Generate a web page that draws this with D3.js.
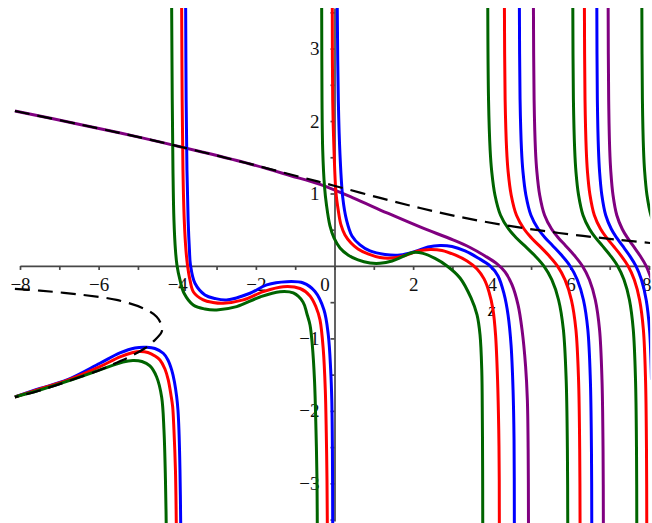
<!DOCTYPE html>
<html>
<head>
<meta charset="utf-8">
<script src="https://cdn.jsdelivr.net/npm/d3@7"></script>
<style>
  html, body { margin: 0; padding: 0; background: #ffffff; }
  svg { display: block; }
  .axis path, .axis line { stroke: #474747; stroke-width: 1.7; }
  .axis text { font-family: "Liberation Serif", "Times New Roman", serif; font-size: 19px; fill: #111; }
</style>
</head>
<body>
<svg id="chart" width="652" height="523"></svg>
<script>
// ---- axis ticks and labels ----
const xTicks = [-8, -7, -6, -5, -4, -3, -2, -1, 0, 1, 2, 3, 4, 5, 6, 7, 8];
const xLabels = [-8, -6, -4, -2, 0, 2, 4, 6, 8];
const yTicks = [-3.5, -3, -2.5, -2, -1.5, -1, -0.5, 0.5, 1, 1.5, 2, 2.5, 3, 3.5];
const yLabels = [-3, -2, -1, 1, 2, 3];
const xAxisTitle = "z";

// ---- curve branches, [z, value] pairs, one array per branch between poles ----
const greenBranches = [
  [[-8.130,-1.808],[-7.494,-1.712],[-6.807,-1.594],[-5.967,-1.435],[-5.382,-1.325],[-5.127,-1.304],[-4.898,-1.318],[-4.695,-1.380],[-4.524,-1.532],[-4.397,-1.808],[-4.338,-2.264],[-4.300,-2.954],[-4.282,-3.520],[-4.275,-4.058]],
  [[-4.148,3.948],[-4.142,3.533],[-4.127,2.291],[-4.109,1.325],[-4.084,0.635],[-4.046,0.221],[-4.008,0.014],[-3.931,-0.193],[-3.830,-0.373],[-3.593,-0.538],[-3.295,-0.594],[-2.997,-0.607],[-2.489,-0.562],[-1.896,-0.428],[-1.387,-0.355],[-1.048,-0.373],[-0.802,-0.497],[-0.700,-0.663],[-0.623,-0.814],[-0.565,-1.090],[-0.509,-1.574],[-0.471,-2.264],[-0.445,-2.954],[-0.438,-3.520],[-0.433,-4.058]],
  [[-0.331,3.948],[-0.326,3.533],[-0.318,2.291],[-0.300,1.601],[-0.254,1.095],[-0.204,0.842],[-0.115,0.552],[-0.013,0.386],[0.140,0.248],[0.344,0.152],[0.598,0.083],[0.903,0.041],[1.158,0.037],[1.463,0.069],[1.743,0.131],[1.997,0.186],[2.252,0.173],[2.557,0.104],[2.863,0],[3.193,-0.166],[3.473,-0.442],[3.626,-0.676],[3.702,-0.952],[3.746,-1.435],[3.761,-2.126],[3.768,-2.816],[3.771,-3.520],[3.774,-4.058]],
  [[3.898,3.7],[3.918,2.3],[3.959,1.6],[4.000,1.3],[4.081,0.98],[4.224,0.70],[4.427,0.51],[4.621,0.39],[4.835,0.28],[5.099,0.14],[5.323,0],[5.527,-0.19],[5.700,-0.47],[5.822,-0.88],[5.893,-1.57],[5.924,-2.53],[5.934,-3.7]],
  [[6.061,3.7],[6.077,2.3],[6.110,1.6],[6.142,1.3],[6.208,0.98],[6.322,0.70],[6.485,0.51],[6.639,0.39],[6.810,0.28],[7.022,0.14],[7.201,0],[7.364,-0.19],[7.503,-0.47],[7.600,-0.88],[7.657,-1.57],[7.682,-2.53],[7.690,-3.7]],
  [[7.817,3.7],[7.832,2.3],[7.861,1.6],[7.890,1.3],[7.948,0.98],[8.049,0.70],[8.180,0.51]]
];

const redBranches = [
  [[-8.130,-1.808],[-7.494,-1.698],[-6.807,-1.580],[-5.967,-1.390],[-5.458,-1.256],[-5.127,-1.194],[-4.949,-1.180],[-4.746,-1.194],[-4.567,-1.242],[-4.440,-1.297],[-4.313,-1.422],[-4.229,-1.573],[-4.160,-1.781],[-4.117,-1.942],[-4.084,-2.264],[-4.046,-2.816],[-4.025,-3.520],[-4.018,-4.058]],
  [[-3.893,3.948],[-3.888,3.533],[-3.875,2.291],[-3.855,1.325],[-3.822,0.635],[-3.779,0.221],[-3.740,0.014],[-3.677,-0.193],[-3.588,-0.359],[-3.338,-0.469],[-3.092,-0.504],[-2.830,-0.515],[-2.321,-0.469],[-1.812,-0.355],[-1.303,-0.286],[-0.878,-0.311],[-0.623,-0.414],[-0.471,-0.566],[-0.369,-0.745],[-0.285,-1.159],[-0.234,-1.712],[-0.209,-2.305],[-0.191,-2.954],[-0.183,-3.520],[-0.178,-4.058]],
  [[-0.059,3.948],[-0.056,3.533],[-0.046,2.291],[-0.013,1.601],[0.038,1.008],[0.102,0.745],[0.165,0.566],[0.267,0.428],[0.420,0.317],[0.598,0.235],[0.852,0.166],[1.158,0.117],[1.463,0.110],[1.794,0.145],[2.125,0.207],[2.430,0.228],[2.735,0.214],[3.066,0.152],[3.372,0.069],[3.626,-0.041],[3.804,-0.179],[3.931,-0.359],[4.033,-0.607],[4.097,-0.952],[4.148,-1.574],[4.178,-2.264],[4.191,-2.954],[4.193,-3.520],[4.196,-4.058]],
  [[4.321,3.7],[4.340,2.3],[4.379,1.6],[4.417,1.3],[4.494,0.98],[4.629,0.70],[4.822,0.51],[5.005,0.39],[5.207,0.28],[5.457,0.14],[5.669,0],[5.862,-0.19],[6.026,-0.47],[6.141,-0.88],[6.208,-1.57],[6.237,-2.53],[6.247,-3.7]],
  [[6.356,3.7],[6.372,2.3],[6.404,1.6],[6.435,1.3],[6.499,0.98],[6.610,0.70],[6.769,0.51],[6.920,0.39],[7.086,0.28],[7.293,0.14],[7.468,0],[7.626,-0.19],[7.761,-0.47],[7.857,-0.88],[7.912,-1.57],[7.936,-2.53],[7.944,-3.7]]
];

const blueBranches = [
  [[-8.130,-1.808],[-7.494,-1.691],[-6.807,-1.573],[-5.967,-1.343],[-5.458,-1.201],[-5.076,-1.132],[-4.779,-1.122],[-4.567,-1.139],[-4.356,-1.205],[-4.237,-1.297],[-4.142,-1.435],[-4.071,-1.601],[-4.015,-1.804],[-3.982,-1.988],[-3.957,-2.264],[-3.931,-2.816],[-3.913,-3.520],[-3.906,-4.058]],
  [[-3.791,3.948],[-3.786,3.533],[-3.774,2.291],[-3.753,1.325],[-3.723,0.635],[-3.690,0.221],[-3.664,0.014],[-3.550,-0.239],[-3.295,-0.400],[-3.041,-0.449],[-2.743,-0.469],[-2.150,-0.377],[-1.725,-0.262],[-1.216,-0.217],[-0.794,-0.235],[-0.496,-0.352],[-0.267,-0.607],[-0.158,-0.952],[-0.097,-1.435],[-0.069,-1.850],[-0.053,-2.540],[-0.046,-3.520],[-0.043,-4.058]],
  [[0.069,3.948],[0.071,3.533],[0.097,2.291],[0.140,1.532],[0.211,0.939],[0.305,0.635],[0.445,0.414],[0.649,0.290],[0.903,0.207],[1.285,0.159],[1.667,0.152],[2.048,0.200],[2.379,0.262],[2.684,0.283],[2.990,0.269],[3.321,0.207],[3.651,0.110],[3.957,0],[4.160,-0.138],[4.313,-0.386],[4.415,-0.676],[4.491,-1.090],[4.542,-1.712],[4.567,-2.402],[4.575,-3.520],[4.578,-4.058]],
  [[4.702,3.7],[4.720,2.3],[4.757,1.6],[4.794,1.3],[4.868,0.98],[4.997,0.70],[5.181,0.51],[5.356,0.39],[5.550,0.28],[5.789,0.14],[5.992,0],[6.176,-0.19],[6.333,-0.47],[6.444,-0.88],[6.508,-1.57],[6.536,-2.53],[6.545,-3.7]],
  [[6.672,3.7],[6.686,2.3],[6.715,1.6],[6.743,1.3],[6.800,0.98],[6.899,0.70],[7.041,0.51],[7.176,0.39],[7.325,0.28],[7.510,0.14],[7.666,0],[7.808,-0.19],[7.929,-0.47],[8.014,-0.88],[8.064,-1.57]]
];

const purpleBranches = [
  [[-8.130,2.139],[-6.476,1.953],[-4.949,1.774],[-3.422,1.580],[-2.150,1.408],[-1.132,1.249],[-0.369,1.125],[0.471,0.939],[1.336,0.732],[2.176,0.538],[3.015,0.359],[3.448,0.255],[3.830,0.138],[4.135,0.028],[4.338,-0.083],[4.517,-0.262],[4.669,-0.538],[4.771,-0.883],[4.860,-1.380],[4.906,-1.850],[4.926,-2.540],[4.934,-3.520],[4.936,-4.058]],
  [[5.059,3.7],[5.077,2.3],[5.112,1.6],[5.148,1.3],[5.219,0.98],[5.344,0.70],[5.522,0.51],[5.691,0.39],[5.878,0.28],[6.110,0.14],[6.306,0],[6.484,-0.19],[6.635,-0.47],[6.742,-0.88],[6.804,-1.57],[6.831,-2.53],[6.840,-3.7]],
  [[6.960,3.7],[6.974,2.3],[7.001,1.6],[7.029,1.3],[7.084,0.98],[7.181,0.70],[7.319,0.51],[7.450,0.39],[7.595,0.28],[7.774,0.14],[7.926,0],[8.064,-0.19]]
];

// dashed approximation: an upper branch and a folded lower branch
const approxUpper = [[-8.130,2.139],[-6.476,1.953],[-4.949,1.774],[-3.422,1.580],[-2.150,1.408],[-0.878,1.229],[0.013,1.104],[1.158,0.939],[2.176,0.800],[3.193,0.676],[4.211,0.573],[5.229,0.490],[6.323,0.414],[7.265,0.359],[8.028,0.317]];
const approxLower = [[-8.130,-0.317],[-7.494,-0.341],[-6.392,-0.400],[-5.542,-0.469],[-4.865,-0.584],[-4.524,-0.700],[-4.397,-0.828],[-4.397,-0.911],[-4.611,-1.045],[-4.822,-1.136],[-5.204,-1.252],[-5.542,-1.335],[-5.967,-1.435],[-6.814,-1.597],[-7.494,-1.718],[-8.130,-1.812]];

const seriesColors = { green: "#006400", red: "#ff0000", blue: "#0000ff", purple: "#800080" };

// ---- scales ----
const x = d3.scaleLinear().domain([-8, 8]).range([20, 649]);
const y = d3.scaleLinear().domain([-3.52, 3.56]).range([521, 8]);

const svg = d3.select("#chart");

svg.append("defs").append("clipPath").attr("id", "plotArea")
  .append("rect")
  .attr("x", x(-8.16)).attr("y", y(3.56))
  .attr("width", x(8.03) - x(-8.16))
  .attr("height", y(-3.55) - y(3.56));

// ---- axes crossing at the origin ----
const fmt = d => (d < 0 ? "\u2212" + Math.abs(d) : String(d));

const xAxis = d3.axisBottom(x)
  .tickValues(xTicks)
  .tickSize(4)
  .tickSizeOuter(0)
  .tickPadding(8)
  .tickFormat(d => xLabels.includes(d) ? fmt(d) : "");

const yAxis = d3.axisLeft(y)
  .tickValues(yTicks)
  .tickSize(4)
  .tickSizeOuter(0)
  .tickPadding(11)
  .tickFormat(d => yLabels.includes(d) ? fmt(d) : "");

const gx = svg.append("g").attr("class", "axis")
  .attr("transform", `translate(0,${y(0)})`)
  .call(xAxis);
gx.selectAll(".tick text").filter(d => d === 0).attr("dx", "-10px");
gx.selectAll(".tick text").filter(d => d === 8).attr("text-anchor", "end").attr("dx", "2px");

const gy = svg.append("g").attr("class", "axis")
  .attr("transform", `translate(${x(0)},0)`)
  .call(yAxis);

svg.append("text")
  .attr("x", x(4.0)).attr("y", y(0) + 50)
  .attr("text-anchor", "middle")
  .style("font-family", '"Liberation Serif", "Times New Roman", serif')
  .style("font-style", "italic")
  .style("font-size", "19px")
  .text(xAxisTitle);

// ---- curves ----
const line = d3.line()
  .x(d => x(d[0]))
  .y(d => y(d[1]))
  .curve(d3.curveCatmullRom.alpha(0.5));

const plot = svg.append("g").attr("clip-path", "url(#plotArea)");

const drawSeries = (branches, color) => {
  plot.append("g").selectAll("path").data(branches).join("path")
    .attr("d", line)
    .attr("fill", "none")
    .attr("stroke", color)
    .attr("stroke-width", 3)
    .attr("stroke-linejoin", "round");
};

drawSeries(purpleBranches, seriesColors.purple);
drawSeries(blueBranches, seriesColors.blue);
drawSeries(redBranches, seriesColors.red);
drawSeries(greenBranches, seriesColors.green);

plot.append("g").selectAll("path").data([approxUpper, approxLower]).join("path")
  .attr("d", line)
  .attr("fill", "none")
  .attr("stroke", "#000")
  .attr("stroke-width", 2.2)
  .attr("stroke-dasharray", "15,8");
</script>
</body>
</html>
